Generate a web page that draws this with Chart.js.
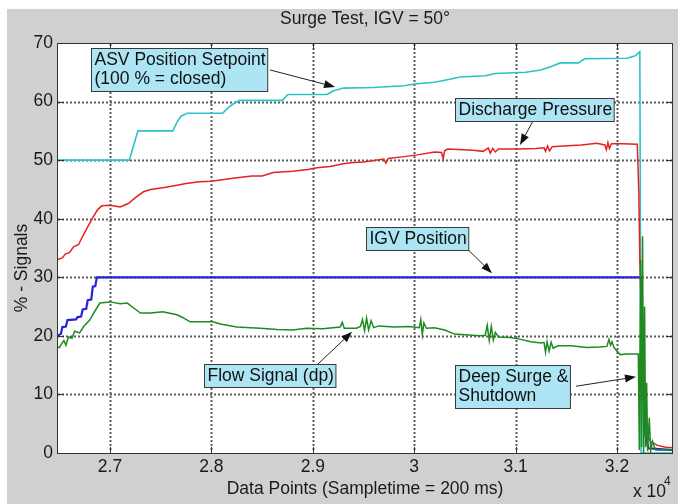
<!DOCTYPE html>
<html><head><meta charset="utf-8">
<script src="https://cdn.jsdelivr.net/npm/chart.js@4.4.0/dist/chart.umd.min.js"></script>
<style>html,body{margin:0;padding:0;background:#fff;overflow:hidden}canvas{display:block}</style>
</head><body>
<canvas id="c" width="678" height="504"></canvas>
<script>
// ---- data (x = data point index, y = % signal) ----
const xTickValues = [27000, 28000, 29000, 30000, 31000, 32000];
const xTickLabels = ['2.7', '2.8', '2.9', '3', '3.1', '3.2'];
const yTickValues = [0, 10, 20, 30, 40, 50, 60, 70];
const xRange = [26477, 32552];

const asvSetpoint = [
 [26477,50],[27190,50],[27275,55],[27620,55],[27660,56.5],[27700,57.5],[27760,58],[28110,58],[28170,59],[28230,59.8],
 [28280,60.2],[28700,60.2],[28755,61.2],[29140,61.2],[29200,61.8],[29300,62.3],[29600,62.4],[29900,62.7],[30000,63.0],
 [30200,63.3],[30350,63.8],[30450,64.2],[30700,64.4],[30800,64.8],[31100,65.0],[31250,65.4],[31350,66.0],[31440,66.6],
 [31620,66.6],[31680,67.3],[32100,67.4],[32180,67.8],[32225,68.5],[32237,0],[32552,0]
];
const dischargePressure = [
 [26477,33.0],[26530,33.3],[26560,34.0],[26600,34.2],[26640,35.2],[26690,35.6],[26730,37.0],[26780,38.6],[26830,40.2],
 [26880,41.6],[26920,42.2],[27000,42.3],[27100,42.0],[27180,42.6],[27250,43.6],[27330,44.6],[27400,45.0],[27520,45.3],
 [27620,45.6],[27750,46.0],[27880,46.3],[28000,46.4],[28160,46.8],[28250,47.0],[28400,47.3],[28500,47.3],[28610,47.9],
 [28800,48.1],[28950,48.4],[29040,48.7],[29170,48.9],[29300,49.4],[29400,49.6],[29500,49.7],[29700,50.2],[29720,49.5],
 [29745,50.3],[29900,50.6],[30030,50.9],[30200,51.4],[30270,51.3],[30285,50.2],[30300,51.6],[30330,51.9],[30580,51.7],
 [30680,51.5],[30730,52.1],[30750,51.2],[30775,52.0],[30800,51.4],[30830,51.9],[31010,51.9],[31200,52.0],[31280,52.1],
 [31295,51.5],[31315,52.4],[31335,51.6],[31360,52.3],[31470,52.4],[31650,52.6],[31800,52.9],[31880,52.6],[31895,51.8],
 [31910,53.0],[31925,52.0],[31945,52.8],[32050,52.8],[32200,52.7],[32215,44.4],[32225,33],[32245,20],[32270,10],
 [32300,3],[32330,2],[32400,1.3],[32480,1.0],[32552,0.9]
];
const igvPosition = [
 [26477,20.0],[26515,20.3],[26530,21.5],[26565,21.6],[26580,22.7],[26665,22.8],[26680,23.2],[26715,23.3],[26730,24.5],
 [26765,24.6],[26780,26.1],[26815,26.2],[26830,28.4],[26855,28.5],[26870,30.0],[32237,30.0],[32250,18],[32262,10.7],
 [32280,3],[32310,0.8],[32552,0.5]
];
const flowSignal = [
 [26477,18.1],[26500,18.0],[26520,18.6],[26545,19.2],[26565,18.4],[26590,19.8],[26625,19.6],[26650,20.8],[26700,20.5],
 [26740,21.6],[26800,22.7],[26850,24.2],[26900,25.6],[27000,25.8],[27100,25.5],[27170,25.6],[27230,24.8],[27300,23.9],
 [27400,23.9],[27520,24.1],[27660,23.6],[27720,23.1],[27790,22.4],[28010,22.4],[28100,22.0],[28250,21.5],[28480,21.3],
 [28650,21.1],[28800,21.0],[28940,21.3],[29100,21.2],[29270,21.5],[29290,22.3],[29310,21.3],[29430,21.3],[29470,21.6],
 [29490,22.8],[29510,20.9],[29530,23.0],[29550,21.0],[29575,22.6],[29600,21.4],[29650,21.7],[29800,21.5],[29950,21.6],
 [30050,21.4],[30065,22.8],[30080,20.2],[30095,22.2],[30120,21.3],[30200,21.4],[30300,21.0],[30400,20.3],[30500,20.2],
 [30650,20.0],[30700,20.1],[30720,21.8],[30740,19.2],[30760,21.6],[30780,19.3],[30800,20.6],[30830,19.8],[30950,19.7],
 [31050,19.4],[31150,19.0],[31250,18.8],[31280,18.9],[31295,17.2],[31310,19.0],[31330,17.4],[31350,18.9],[31370,17.9],
 [31420,18.3],[31550,18.3],[31700,18.0],[31830,18.1],[31900,18.2],[31920,19.4],[31935,18.4],[31950,19.0],[31970,18.0],
 [32030,16.8],[32100,16.9],[32210,16.9],[32220,0.5],[32232,33],[32242,1],[32252,37],[32262,0],[32272,25],[32282,1],
 [32292,12],[32302,0.3],[32318,6],[32332,0.4],[32350,2],[32380,0.5],[32552,0.5]
];

// ---- texts ----
const titleText = 'Surge Test, IGV = 50\u00b0';
const xTitle = 'Data Points (Sampletime = 200 ms)';
const yTitle = '% - Signals';
const notes = [
  {lines: ['ASV Position Setpoint', '(100 % = closed)'], at: [26813, 69.15], from: [28578, 65.4], to: [29219, 62.5]},
  {lines: ['Discharge Pressure'], at: [30402, 60.6], from: [31181, 57.0], to: [31043, 52.6]},
  {lines: ['IGV Position'], at: [29525, 38.6], from: [30531, 34.7], to: [30767, 30.7]},
  {lines: ['Flow Signal (dp)'], at: [27927, 15.2], from: [29051, 15.2], to: [29387, 20.7]},
  {lines: ['Deep Surge &', 'Shutdown'], at: [30402, 15.0], from: [31596, 11.4], to: [32187, 13.0]}
];

const FONT = '"Liberation Sans", Arial, Helvetica, sans-serif';
const FS = 17.5;
const toXY = arr => arr.map(p => ({x: p[0], y: p[1]}));

// dotted grid drawn as short dashes at the scale's tick pixels
function drawGrid(chart) {
  const {ctx, chartArea: a} = chart;
  const xs = chart.scales.x, ys = chart.scales.y;
  ctx.save();
  ctx.fillStyle = '#5c5c5c';
  xTickValues.forEach(v => {
    const px = Math.round(xs.getPixelForValue(v));
    for (let t = Math.round(a.top) + 1; t < a.bottom - 1; t += 4) ctx.fillRect(px - 0.5, t, 2, 2);
  });
  yTickValues.slice(1, -1).forEach(v => {
    const py = Math.round(ys.getPixelForValue(v));
    for (let t = Math.round(a.left) + 1; t < a.right - 1; t += 4) ctx.fillRect(t, py - 0.5, 2, 2);
  });
  ctx.restore();
}

const decor = {
  id: 'decor',
  beforeDraw(chart) {
    const {ctx, chartArea: a, width, height} = chart;
    ctx.save();
    ctx.fillStyle = '#ffffff'; ctx.fillRect(0, 0, width, height);
    ctx.fillStyle = '#d0d0d0'; ctx.fillRect(7, 9, width - 7, height - 9);
    ctx.fillStyle = '#ffffff'; ctx.fillRect(a.left, a.top, a.right - a.left, a.bottom - a.top);
    ctx.restore();
  },
  beforeDatasetsDraw(chart) {
    drawGrid(chart);
  },
  afterDraw(chart) {
    const {ctx, chartArea: a} = chart;
    const xs = chart.scales.x, ys = chart.scales.y;
    ctx.save();
    ctx.fillStyle = '#333';
    const L = Math.round(a.left), R = Math.round(a.right) - 1, T = Math.round(a.top), B = Math.round(a.bottom);
    ctx.fillRect(L, T, R - L + 1, 1);
    ctx.fillRect(L, B, R - L + 1, 1);
    ctx.fillRect(L, T, 1, B - T + 1);
    ctx.fillRect(R, T, 1, B - T + 1);
    xTickValues.forEach(v => {
      const px = Math.round(xs.getPixelForValue(v));
      ctx.fillRect(px, B - 6, 1, 6);
      ctx.fillRect(px, T + 1, 1, 6);
    });
    yTickValues.forEach(v => {
      const py = Math.round(ys.getPixelForValue(v));
      ctx.fillRect(L + 1, py, 6, 1);
      ctx.fillRect(R - 6, py, 6, 1);
    });

    ctx.fillStyle = '#1a1a1a';
    ctx.font = FS + 'px ' + FONT;
    ctx.textAlign = 'center'; ctx.textBaseline = 'alphabetic';
    ctx.fillText(titleText, (a.left + a.right) / 2, 24);
    ctx.fillText(xTitle, (a.left + a.right) / 2, 494);
    ctx.save();
    ctx.translate(27, 268); ctx.rotate(-Math.PI / 2);
    ctx.fillText(yTitle, 0, 0);
    ctx.restore();
    ctx.textAlign = 'left';
    ctx.fillText('x 10', 633, 497);
    ctx.font = '12px ' + FONT;
    ctx.fillText('4', 664, 485);

    ctx.font = FS + 'px ' + FONT;
    notes.forEach(n => {
      const bx = xs.getPixelForValue(n.at[0]), by = ys.getPixelForValue(n.at[1]);
      const w = Math.max(...n.lines.map(l => ctx.measureText(l).width)) + 5;
      const h = 3 + n.lines.length * 20;
      const x0 = Math.round(bx) + 0.5, y0 = Math.round(by) + 0.5;
      const fx = xs.getPixelForValue(n.from[0]), fy = ys.getPixelForValue(n.from[1]);
      const tx = xs.getPixelForValue(n.to[0]), ty = ys.getPixelForValue(n.to[1]);
      const ang = Math.atan2(ty - fy, tx - fx);
      const HL = 11, HW = 4;
      const bxp = tx - HL * Math.cos(ang), byp = ty - HL * Math.sin(ang);
      ctx.strokeStyle = '#222'; ctx.lineWidth = 1;
      ctx.beginPath(); ctx.moveTo(fx, fy); ctx.lineTo(bxp, byp); ctx.stroke();
      ctx.fillStyle = '#111';
      ctx.beginPath();
      ctx.moveTo(tx, ty);
      ctx.lineTo(bxp + HW * Math.sin(ang), byp - HW * Math.cos(ang));
      ctx.lineTo(bxp - HW * Math.sin(ang), byp + HW * Math.cos(ang));
      ctx.closePath(); ctx.fill();
      ctx.fillStyle = '#aee5f5';
      ctx.fillRect(x0, y0, w, h);
      ctx.strokeStyle = '#3a3a3a';
      ctx.strokeRect(x0, y0, w, h);
      ctx.fillStyle = '#111';
      ctx.textAlign = 'left';
      n.lines.forEach((l, i) => ctx.fillText(l, x0 + 3, y0 + 16 + i * 19));
    });
    ctx.restore();
  }
};

new Chart(document.getElementById('c'), {
  type: 'line',
  data: {
    datasets: [
      {label: 'Flow Signal (dp)', data: toXY(flowSignal), borderColor: '#1f8a1f', borderWidth: 1.5},
      {label: 'Discharge Pressure', data: toXY(dischargePressure), borderColor: '#e82020', borderWidth: 1.5},
      {label: 'IGV Position', data: toXY(igvPosition), borderColor: '#2424d8', borderWidth: 2.2},
      {label: 'ASV Position Setpoint', data: toXY(asvSetpoint), borderColor: '#2cc3c8', borderWidth: 1.6}
    ]
  },
  options: {
    responsive: false,
    animation: false,
    devicePixelRatio: 1,
    layout: {padding: {left: 0, top: 43, right: 5, bottom: 0}},
    elements: {point: {radius: 0, hoverRadius: 0}, line: {tension: 0, fill: false}},
    plugins: {legend: {display: false}, tooltip: {enabled: false}, title: {display: false}},
    scales: {
      x: {
        type: 'linear', min: xRange[0], max: xRange[1],
        afterBuildTicks: s => { s.ticks = xTickValues.map(v => ({value: v})); },
        afterFit: s => { s.height = 51; },
        ticks: {
          autoSkip: false, maxRotation: 0, padding: 4, color: '#1a1a1a',
          font: {family: FONT, size: FS},
          callback: (v) => xTickLabels[xTickValues.indexOf(v)]
        },
        grid: {display: false, drawTicks: false},
        border: {display: false}
      },
      y: {
        type: 'linear', min: 0, max: 70,
        afterBuildTicks: s => { s.ticks = yTickValues.map(v => ({value: v})); },
        afterFit: s => { s.width = 57; },
        ticks: {padding: 4, color: '#1a1a1a', font: {family: FONT, size: FS}},
        grid: {display: false, drawTicks: false},
        border: {display: false}
      }
    }
  },
  plugins: [decor]
});
</script>
</body></html>
